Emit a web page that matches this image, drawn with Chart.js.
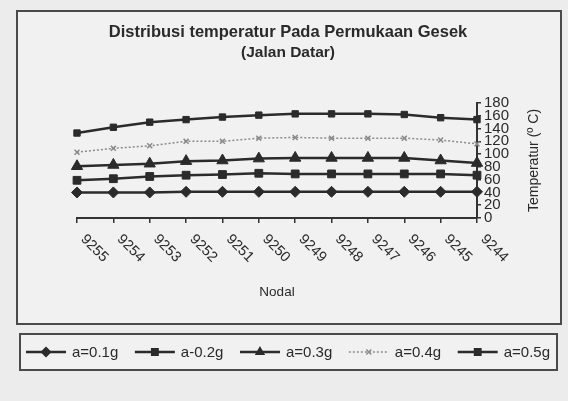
<!DOCTYPE html>
<html><head><meta charset="utf-8">
<script src="https://cdn.jsdelivr.net/npm/chart.js@4/dist/chart.umd.min.js"></script>
<style>html,body{margin:0;padding:0;background:#ececec;} canvas{display:block;}</style>
</head><body>
<div style="width:568px;height:401px;position:relative"><canvas id="c" width="568" height="401"></canvas></div>
<script>
const TITLE_LINES = ['Distribusi temperatur Pada Permukaan Gesek', '(Jalan Datar)'];
const X_TITLE = 'Nodal';
const Y_TITLE = 'Temperatur (º C)';
const NODES = ['9255','9254','9253','9252','9251','9250','9249','9248','9247','9246','9245','9244'];
const SERIES_NAMES = ['a=0.1g','a-0.2g','a=0.3g','a=0.4g','a=0.5g'];
const A01 = [40, 40, 40, 41, 41, 41, 41, 41, 41, 41, 41, 41];
const A02 = [59, 61.5, 65, 67, 68, 70, 69, 69, 69, 69, 69, 67];
const A03 = [81, 83, 85, 89, 90, 93, 94, 94, 94, 94, 90, 86];
const A04 = [103, 109, 113, 120, 120, 125, 126, 125, 125, 125, 122, 116];
const A05 = [133, 142, 150, 154, 158, 161, 163, 163, 163, 162, 157, 154];
const Y_MIN = 0, Y_MAX = 180, Y_STEP = 20;

const INK = '#2b2b2b';
const FONT = '"Liberation Sans", Arial, sans-serif';

const STYLES = [
  {pointStyle:'rectRot', pointRadius:5.5, borderColor:INK, backgroundColor:INK, borderDash:[]},
  {pointStyle:'rect', pointRadius:5.5, borderColor:INK, backgroundColor:INK, borderDash:[]},
  {pointStyle:'triangle', pointRadius:6.5, borderColor:INK, backgroundColor:INK, borderDash:[]},
  {pointStyle:'crossRot', pointRadius:3.5, borderColor:'#8a8a8a', backgroundColor:'#8a8a8a', borderDash:[2,2]},
  {pointStyle:'rect', pointRadius:4.5, borderColor:INK, backgroundColor:INK, borderDash:[]}
];
const VALUES = [A01, A02, A03, A04, A05];

const datasets = VALUES.map((v, i) => ({
  label: SERIES_NAMES[i],
  data: v,
  borderColor: STYLES[i].borderColor,
  backgroundColor: STYLES[i].backgroundColor,
  pointBackgroundColor: STYLES[i].backgroundColor,
  pointBorderColor: STYLES[i].borderColor,
  pointStyle: STYLES[i].pointStyle,
  pointRadius: STYLES[i].pointRadius,
  pointBorderWidth: i === 3 ? 1.5 : 1,
  borderWidth: i === 3 ? 1.5 : 2.5,
  borderDash: STYLES[i].borderDash,
  tension: 0,
  clip: false
}));

function drawMarker(ctx, style, r, x, y, color) {
  ctx.save();
  ctx.fillStyle = color; ctx.strokeStyle = color; ctx.lineWidth = 1.5;
  if (Chart.helpers && Chart.helpers.drawPoint) {
    Chart.helpers.drawPoint(ctx, {pointStyle: style, radius: r, rotation: 0, borderWidth: 1.5}, x, y);
  } else {
    ctx.fillRect(x - r, y - r, 2 * r, 2 * r);
  }
  ctx.restore();
}

const decor = {
  id: 'decor',
  beforeDraw(chart) {
    const ctx = chart.ctx;
    ctx.save();
    ctx.fillStyle = '#ececec';
    ctx.fillRect(0, 0, chart.width, chart.height);
    ctx.fillStyle = '#f1f1f1';
    ctx.fillRect(17, 11, 544, 313);
    ctx.fillRect(20, 334, 537, 36);
    ctx.restore();
  },
  afterDraw(chart) {
    const ctx = chart.ctx;
    const xs = chart.scales.x;
    const area = chart.chartArea;
    ctx.save();
    ctx.strokeStyle = '#4a4a4a'; ctx.lineWidth = 2;
    ctx.strokeRect(17, 11, 544, 313);
    ctx.strokeRect(20, 334, 537, 36);
    ctx.fillStyle = '#2a2a2a';
    ctx.textAlign = 'center'; ctx.textBaseline = 'middle';
    ctx.font = 'bold 16.5px ' + FONT;
    ctx.fillText(TITLE_LINES[0], 288, 32);
    ctx.font = 'bold 15.5px ' + FONT;
    ctx.fillText(TITLE_LINES[1], 288, 53);
    ctx.font = '14.5px ' + FONT;
    ctx.textAlign = 'left'; ctx.textBaseline = 'middle';
    NODES.forEach((lab, i) => {
      const px = xs.getPixelForTick(i);
      ctx.save();
      ctx.translate(px + 6, area.bottom + 19);
      ctx.rotate(Math.PI / 4);
      ctx.fillText(lab, 0, 0);
      ctx.restore();
    });
    ctx.font = '13.5px ' + FONT;
    ctx.textAlign = 'center';
    ctx.fillText(X_TITLE, (area.left + area.right) / 2, 292);
    ctx.save();
    ctx.translate(534, (area.top + area.bottom) / 2);
    ctx.rotate(-Math.PI / 2);
    ctx.font = '14px ' + FONT;
    ctx.fillText(Y_TITLE, 0, 0);
    ctx.restore();
    ctx.font = '15px ' + FONT;
    ctx.textBaseline = 'middle'; ctx.textAlign = 'left';
    const lineLen = 40, gap = 6;
    const widths = SERIES_NAMES.map(n => lineLen + gap + ctx.measureText(n).width);
    const total = widths.reduce((a, b) => a + b, 0);
    const startX = 26, endX = 550;
    const spacing = (endX - startX - total) / (SERIES_NAMES.length - 1);
    let x = startX;
    const ly = 352;
    datasets.forEach((d, i) => {
      ctx.save();
      ctx.strokeStyle = d.borderColor; ctx.lineWidth = d.borderWidth;
      ctx.setLineDash(d.borderDash);
      ctx.beginPath(); ctx.moveTo(x, ly); ctx.lineTo(x + lineLen, ly); ctx.stroke();
      ctx.setLineDash([]);
      drawMarker(ctx, d.pointStyle, Math.min(d.pointRadius, 4.5), x + lineLen / 2, ly, d.borderColor);
      ctx.restore();
      ctx.fillStyle = '#2a2a2a';
      ctx.fillText(d.label, x + lineLen + gap, ly + 1);
      x += widths[i] + spacing;
    });
    ctx.restore();
  }
};

new Chart(document.getElementById('c'), {
  type: 'line',
  data: { labels: NODES, datasets },
  options: {
    responsive: false,
    devicePixelRatio: 1,
    animation: false,
    events: [],
    layout: { padding: { left: 77, top: 103, right: 0, bottom: 0 } },
    plugins: { legend: { display: false }, title: { display: false }, tooltip: { enabled: false } },
    scales: {
      x: {
        type: 'category',
        offset: false,
        grid: { display: true, drawOnChartArea: false, drawTicks: true, tickLength: 5, color: '#333', lineWidth: 1.5 },
        border: { display: true, color: '#333', width: 2 },
        ticks: { display: false },
        afterFit(s) { s.height = 401 - 218; }
      },
      y: {
        position: 'right',
        min: Y_MIN, max: Y_MAX,
        grid: { display: true, drawOnChartArea: false, drawTicks: true, tickLength: 4, color: '#333', lineWidth: 1.5 },
        border: { display: true, color: '#333', width: 2 },
        ticks: { stepSize: Y_STEP, autoSkip: false, padding: 3, color: '#2a2a2a', font: { family: FONT, size: 15 } },
        afterFit(s) { s.width = 568 - 477; }
      }
    }
  },
  plugins: [decor]
});
</script>
</body></html>
